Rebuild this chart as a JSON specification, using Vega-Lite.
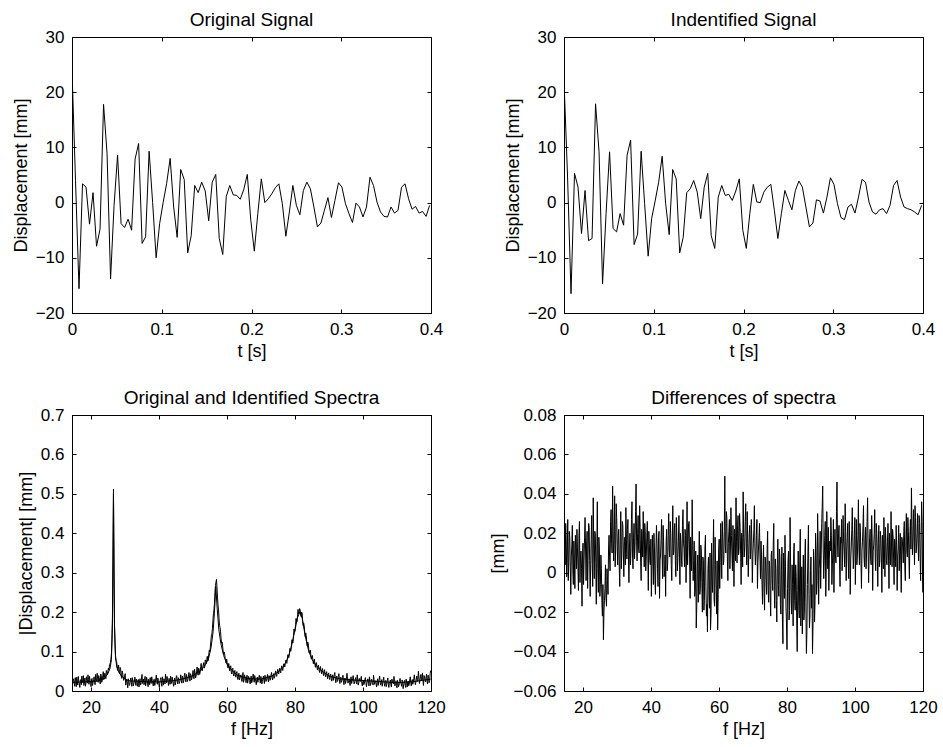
{
"$schema": "https://vega.github.io/schema/vega-lite/v6.json",
"background": "white",
"padding": {"left": 11, "top": 10, "right": 10, "bottom": 10},
"bounds": "flush",
"columns": 2,
"spacing": {"row": 102, "column": 133},
"config": {
  "font": "Liberation Sans",
  "view": {"stroke": "black", "strokeWidth": 1},
  "axis": {"grid": false, "domainColor": "black", "domainWidth": 1, "tickColor": "black", "tickSize": -4, "labelPadding": 12, "labelColor": "black", "titleColor": "black", "labelFontSize": 17, "titleFontSize": 18, "titleFontWeight": "normal", "titlePadding": 5, "labelFlush": false, "labelOverlap": false, "labelBound": false, "labelFont": "Liberation Sans", "titleFont": "Liberation Sans", "format": "~r"},
  "title": {"fontSize": 19, "fontWeight": "normal", "font": "Liberation Sans", "color": "black", "offset": -2, "anchor": "middle", "frame": "group"}
},
"datasets": {
"sig": [
{"t":0,"o":24,"id":22},{"t":0.00391,"o":4,"id":5},{"t":0.00781,"o":-15.6,"id":-16.5},{"t":0.01172,"o":3.4,"id":5.3},{"t":0.01563,"o":2.8,"id":2.8},{"t":0.01953,"o":-3.9,"id":-5.6},{"t":0.02344,"o":1.8,"id":2.2},{"t":0.02734,"o":-7.9,"id":-6.9},{"t":0.03125,"o":-4.8,"id":-6.5},{"t":0.03516,"o":17.8,"id":17.9},
{"t":0.03906,"o":8.9,"id":9.2},{"t":0.04297,"o":-13.8,"id":-14.7},{"t":0.04688,"o":-0.5,"id":-2},{"t":0.05078,"o":8.6,"id":9.2},{"t":0.05469,"o":-3.8,"id":-4.7},{"t":0.05859,"o":-4.5,"id":-5.3},{"t":0.0625,"o":-3.0,"id":-2.0},{"t":0.06641,"o":-5.0,"id":-4.1},{"t":0.07031,"o":7.9,"id":8.6},{"t":0.07422,"o":10.7,"id":11.3},
{"t":0.07813,"o":-7.4,"id":-7.6},{"t":0.08203,"o":-6.2,"id":-5.7},{"t":0.08594,"o":9.3,"id":9.3},{"t":0.08984,"o":0,"id":-0.2},{"t":0.09375,"o":-10.0,"id":-9.7},{"t":0.09766,"o":-3.8,"id":-2.9},{"t":0.10156,"o":0,"id":0.3},{"t":0.10547,"o":3.5,"id":3.7},{"t":0.10938,"o":8.0,"id":8.4},{"t":0.11328,"o":-0.8,"id":-0.2},
{"t":0.11719,"o":-6.3,"id":-5.8},{"t":0.12109,"o":6.0,"id":6.0},{"t":0.125,"o":4.2,"id":4.3},{"t":0.12891,"o":-9.1,"id":-9.1},{"t":0.13281,"o":-6.0,"id":-6.3},{"t":0.13672,"o":3.1,"id":1.8},{"t":0.14063,"o":1.8,"id":2.5},{"t":0.14453,"o":3.7,"id":4.0},{"t":0.14844,"o":2.1,"id":1.9},{"t":0.15234,"o":-3.3,"id":-2.9},
{"t":0.15625,"o":3.7,"id":2.8},{"t":0.16016,"o":5.1,"id":5.3},{"t":0.16406,"o":-6.5,"id":-6.0},{"t":0.16797,"o":-9.4,"id":-8.3},{"t":0.17188,"o":1.1,"id":1.0},{"t":0.17578,"o":3.1,"id":3.1},{"t":0.17969,"o":1.4,"id":1.3},{"t":0.18359,"o":1.3,"id":1.5},{"t":0.1875,"o":0.6,"id":0.4},{"t":0.19141,"o":2.4,"id":2.1},
{"t":0.19531,"o":5.1,"id":4.3},{"t":0.19922,"o":-3.2,"id":-5},{"t":0.20313,"o":-8.8,"id":-8.3},{"t":0.20703,"o":-2,"id":-2.0},{"t":0.21094,"o":4.3,"id":3.3},{"t":0.21484,"o":0,"id":0.1},{"t":0.21875,"o":0.7,"id":0},{"t":0.22266,"o":1.6,"id":1.9},{"t":0.22656,"o":2.7,"id":2.8},{"t":0.23047,"o":3.4,"id":3.3},
{"t":0.23438,"o":-0.2,"id":-1.4},{"t":0.23828,"o":-6.1,"id":-6.5},{"t":0.24219,"o":-1.7,"id":-2.0},{"t":0.24609,"o":3.1,"id":2.2},{"t":0.25,"o":-0.5,"id":0.4},{"t":0.25391,"o":-2.2,"id":-1.3},{"t":0.25781,"o":2.2,"id":2.2},{"t":0.26172,"o":3.7,"id":3.9},{"t":0.26563,"o":2.5,"id":2.8},{"t":0.26953,"o":-0.8,"id":-0.8},
{"t":0.27344,"o":-4.4,"id":-4.4},{"t":0.27734,"o":-3.7,"id":-3.7},{"t":0.28125,"o":-1.4,"id":0.5},{"t":0.28516,"o":0.9,"id":0.3},{"t":0.28906,"o":-2.7,"id":-1.9},{"t":0.29297,"o":0.4,"id":1.0},{"t":0.29688,"o":3.6,"id":4.5},{"t":0.30078,"o":2.8,"id":3.3},{"t":0.30469,"o":-0.2,"id":-0.2},{"t":0.30859,"o":-2.0,"id":-2.7},
{"t":0.3125,"o":-3.6,"id":-3.1},{"t":0.31641,"o":-0.1,"id":-0.8},{"t":0.32031,"o":-0.8,"id":-0.3},{"t":0.32422,"o":-2.6,"id":-1.9},{"t":0.32813,"o":-0.8,"id":1.0},{"t":0.33203,"o":4.6,"id":4.2},{"t":0.33594,"o":3.1,"id":3.7},{"t":0.33984,"o":0.1,"id":0.1},{"t":0.34375,"o":-1.7,"id":-1.7},{"t":0.34766,"o":-2.5,"id":-2.1},
{"t":0.35156,"o":-2.6,"id":-1.3},{"t":0.35547,"o":-0.8,"id":-1.1},{"t":0.35938,"o":-1.9,"id":-2.0},{"t":0.36328,"o":-1.4,"id":-0.5},{"t":0.36719,"o":2.8,"id":3.1},{"t":0.37109,"o":3.4,"id":4.0},{"t":0.375,"o":0.7,"id":1.0},{"t":0.37891,"o":-1.2,"id":-0.8},{"t":0.38281,"o":-0.7,"id":-1.1},{"t":0.38672,"o":-1.9,"id":-1.3},
{"t":0.39063,"o":-1.6,"id":-1.7},{"t":0.39453,"o":-2.5,"id":-2.2},{"t":0.39844,"o":-0.5,"id":-0.5}
],
"spec": [
{"f":14.6,"o":0.018,"d":0.012},{"f":14.9,"o":0.031,"d":0.025},{"f":15.2,"o":0.012,"d":-0.002},{"f":15.5,"o":0.027,"d":0.027},{"f":15.8,"o":0.035,"d":0.005},{"f":16.1,"o":0.015,"d":0.018},{"f":16.4,"o":0.024,"d":-0.011},{"f":16.7,"o":0.009,"d":0.014},{"f":17.0,"o":0.029,"d":0.001},{"f":17.3,"o":0.038,"d":0.016},
{"f":17.6,"o":0.021,"d":-0.008},{"f":17.9,"o":0.014,"d":0.012},{"f":18.2,"o":0.033,"d":0.022},{"f":18.5,"o":0.019,"d":0.003},{"f":18.8,"o":0.026,"d":0.019},{"f":19.1,"o":0.041,"d":-0.005},{"f":19.4,"o":0.017,"d":0.011},{"f":19.7,"o":0.028,"d":-0.017},{"f":20.0,"o":0.011,"d":0.015},{"f":20.3,"o":0.032,"d":0.006},
{"f":20.6,"o":0.023,"d":0.028},{"f":20.9,"o":0.036,"d":-0.004},{"f":21.2,"o":0.016,"d":0.021},{"f":21.5,"o":0.03,"d":0.009},{"f":21.8,"o":0.045,"d":0.023},{"f":22.1,"o":0.022,"d":-0.012},{"f":22.4,"o":0.034,"d":0.017},{"f":22.7,"o":0.018,"d":0.004},{"f":23.0,"o":0.04,"d":0.038},{"f":23.3,"o":0.027,"d":-0.003},
{"f":23.6,"o":0.049,"d":0.02},{"f":23.9,"o":0.033,"d":-0.016},{"f":24.2,"o":0.038,"d":0.036},{"f":24.5,"o":0.052,"d":-0.01},{"f":24.8,"o":0.041,"d":0.013},{"f":25.1,"o":0.058,"d":-0.006},{"f":25.4,"o":0.063,"d":0.002},{"f":25.7,"o":0.072,"d":-0.022},{"f":26.0,"o":0.095,"d":-0.034},{"f":26.3,"o":0.19,"d":-0.014},
{"f":26.6,"o":0.512,"d":0.004},{"f":26.9,"o":0.17,"d":-0.017},{"f":27.2,"o":0.09,"d":-0.004},{"f":27.5,"o":0.075,"d":0.012},{"f":27.8,"o":0.052,"d":0.008},{"f":28.1,"o":0.066,"d":0.026},{"f":28.4,"o":0.043,"d":0.015},{"f":28.7,"o":0.055,"d":0.044},{"f":29.0,"o":0.032,"d":0.006},{"f":29.3,"o":0.046,"d":0.039},
{"f":29.6,"o":0.027,"d":0.012},{"f":29.9,"o":0.038,"d":0.028},{"f":30.2,"o":0.015,"d":0.004},{"f":30.5,"o":0.029,"d":0.022},{"f":30.8,"o":0.008,"d":-0.007},{"f":31.1,"o":0.024,"d":0.031},{"f":31.4,"o":0.017,"d":0.009},{"f":31.7,"o":0.033,"d":0.024},{"f":32.0,"o":0.012,"d":-0.002},{"f":32.3,"o":0.026,"d":0.018},
{"f":32.6,"o":0.019,"d":0.033},{"f":32.9,"o":0.035,"d":0.007},{"f":33.2,"o":0.014,"d":0.027},{"f":33.5,"o":0.028,"d":-0.005},{"f":33.8,"o":0.021,"d":0.02},{"f":34.1,"o":0.01,"d":0.011},{"f":34.4,"o":0.031,"d":0.036},{"f":34.7,"o":0.018,"d":0.002},{"f":35.0,"o":0.042,"d":0.025},{"f":35.3,"o":0.023,"d":0.014},
{"f":35.6,"o":0.016,"d":0.045},{"f":35.9,"o":0.037,"d":0.006},{"f":36.2,"o":0.02,"d":0.029},{"f":36.5,"o":0.028,"d":0.01},{"f":36.8,"o":0.011,"d":0.023},{"f":37.1,"o":0.025,"d":-0.004},{"f":37.4,"o":0.034,"d":0.017},{"f":37.7,"o":0.019,"d":0.031},{"f":38.0,"o":0.027,"d":0.003},{"f":38.3,"o":0.013,"d":0.021},
{"f":38.6,"o":0.03,"d":0.008},{"f":38.9,"o":0.022,"d":0.026},{"f":39.2,"o":0.04,"d":-0.009},{"f":39.5,"o":0.017,"d":0.015},{"f":39.8,"o":0.026,"d":0.004},{"f":40.1,"o":0.009,"d":-0.012},{"f":40.4,"o":0.029,"d":0.019},{"f":40.7,"o":0.02,"d":-0.006},{"f":41.0,"o":0.036,"d":0.013},{"f":41.3,"o":0.015,"d":-0.011},
{"f":41.6,"o":0.027,"d":0.024},{"f":41.9,"o":0.043,"d":0.002},{"f":42.2,"o":0.021,"d":0.018},{"f":42.5,"o":0.031,"d":-0.013},{"f":42.8,"o":0.014,"d":0.009},{"f":43.1,"o":0.024,"d":0.027},{"f":43.4,"o":0.038,"d":-0.003},{"f":43.7,"o":0.019,"d":0.016},{"f":44.0,"o":0.028,"d":0.001},{"f":44.3,"o":0.012,"d":-0.012},
{"f":44.6,"o":0.033,"d":0.022},{"f":44.9,"o":0.022,"d":0.005},{"f":45.2,"o":0.039,"d":0.03},{"f":45.5,"o":0.018,"d":0.008},{"f":45.8,"o":0.03,"d":0.02},{"f":46.1,"o":0.024,"d":-0.004},{"f":46.4,"o":0.041,"d":0.034},{"f":46.7,"o":0.02,"d":0.011},{"f":47.0,"o":0.034,"d":0.025},{"f":47.3,"o":0.027,"d":-0.002},
{"f":47.6,"o":0.045,"d":0.018},{"f":47.9,"o":0.023,"d":0.007},{"f":48.2,"o":0.036,"d":0.029},{"f":48.5,"o":0.029,"d":-0.006},{"f":48.8,"o":0.047,"d":0.015},{"f":49.1,"o":0.025,"d":0.003},{"f":49.4,"o":0.04,"d":0.032},{"f":49.7,"o":0.033,"d":0.012},{"f":50.0,"o":0.052,"d":0.022},{"f":50.3,"o":0.031,"d":-0.005},
{"f":50.6,"o":0.046,"d":0.036},{"f":50.9,"o":0.038,"d":0.014},{"f":51.2,"o":0.061,"d":0.026},{"f":51.5,"o":0.04,"d":-0.013},{"f":51.8,"o":0.055,"d":0.01},{"f":52.1,"o":0.048,"d":0.037},{"f":52.4,"o":0.07,"d":-0.004},{"f":52.7,"o":0.051,"d":0.016},{"f":53.0,"o":0.066,"d":-0.009},{"f":53.3,"o":0.058,"d":-0.028},
{"f":53.6,"o":0.079,"d":0.003},{"f":53.9,"o":0.069,"d":-0.015},{"f":54.2,"o":0.088,"d":0.021},{"f":54.5,"o":0.082,"d":-0.008},{"f":54.8,"o":0.104,"d":0.011},{"f":55.1,"o":0.112,"d":-0.02},{"f":55.4,"o":0.14,"d":0.006},{"f":55.7,"o":0.158,"d":-0.014},{"f":56.0,"o":0.196,"d":0.019},{"f":56.3,"o":0.221,"d":-0.022},
{"f":56.6,"o":0.268,"d":-0.03},{"f":56.9,"o":0.283,"d":0.008},{"f":57.2,"o":0.238,"d":-0.018},{"f":57.5,"o":0.206,"d":-0.029},{"f":57.8,"o":0.166,"d":0.015},{"f":58.1,"o":0.15,"d":-0.01},{"f":58.4,"o":0.121,"d":0.027},{"f":58.7,"o":0.114,"d":-0.017},{"f":59.0,"o":0.093,"d":0.004},{"f":59.3,"o":0.094,"d":-0.021},
{"f":59.6,"o":0.075,"d":-0.029},{"f":59.9,"o":0.081,"d":0.012},{"f":60.2,"o":0.06,"d":-0.008},{"f":60.5,"o":0.07,"d":0.025},{"f":60.8,"o":0.051,"d":-0.003},{"f":61.1,"o":0.064,"d":0.018},{"f":61.4,"o":0.043,"d":0.006},{"f":61.7,"o":0.058,"d":0.049},{"f":62.0,"o":0.038,"d":0.01},{"f":62.3,"o":0.052,"d":0.028},
{"f":62.6,"o":0.035,"d":-0.004},{"f":62.9,"o":0.049,"d":0.021},{"f":63.2,"o":0.029,"d":0.002},{"f":63.5,"o":0.045,"d":0.033},{"f":63.8,"o":0.033,"d":0.009},{"f":64.1,"o":0.041,"d":0.024},{"f":64.4,"o":0.024,"d":-0.007},{"f":64.7,"o":0.047,"d":0.017},{"f":65.0,"o":0.028,"d":0.038},{"f":65.3,"o":0.036,"d":0.005},
{"f":65.6,"o":0.021,"d":0.029},{"f":65.9,"o":0.04,"d":0.012},{"f":66.2,"o":0.026,"d":0.023},{"f":66.5,"o":0.033,"d":-0.006},{"f":66.8,"o":0.018,"d":0.016},{"f":67.1,"o":0.038,"d":0.041},{"f":67.4,"o":0.025,"d":0.008},{"f":67.7,"o":0.043,"d":0.026},{"f":68.0,"o":0.022,"d":0.013},{"f":68.3,"o":0.031,"d":0.031},
{"f":68.6,"o":0.016,"d":-0.002},{"f":68.9,"o":0.035,"d":0.02},{"f":69.2,"o":0.027,"d":0.007},{"f":69.5,"o":0.04,"d":0.027},{"f":69.8,"o":0.02,"d":-0.005},{"f":70.1,"o":0.032,"d":0.015},{"f":70.4,"o":0.024,"d":0.034},{"f":70.7,"o":0.038,"d":0.004},{"f":71.0,"o":0.019,"d":0.019},{"f":71.3,"o":0.034,"d":-0.008},
{"f":71.6,"o":0.026,"d":0.012},{"f":71.9,"o":0.042,"d":0.025},{"f":72.2,"o":0.023,"d":-0.003},{"f":72.5,"o":0.036,"d":0.009},{"f":72.8,"o":0.03,"d":-0.016},{"f":73.1,"o":0.047,"d":0.014},{"f":73.4,"o":0.028,"d":-0.019},{"f":73.7,"o":0.044,"d":0.006},{"f":74.0,"o":0.035,"d":-0.011},{"f":74.3,"o":0.051,"d":0.021},
{"f":74.6,"o":0.037,"d":-0.015},{"f":74.9,"o":0.055,"d":0.003},{"f":75.2,"o":0.043,"d":-0.022},{"f":75.5,"o":0.058,"d":0.011},{"f":75.8,"o":0.046,"d":-0.009},{"f":76.1,"o":0.064,"d":0.025},{"f":76.4,"o":0.052,"d":-0.018},{"f":76.7,"o":0.069,"d":0.002},{"f":77.0,"o":0.061,"d":-0.025},{"f":77.3,"o":0.078,"d":0.017},
{"f":77.6,"o":0.07,"d":-0.012},{"f":77.9,"o":0.092,"d":0.008},{"f":78.2,"o":0.085,"d":-0.021},{"f":78.5,"o":0.108,"d":0.013},{"f":78.8,"o":0.101,"d":-0.036},{"f":79.1,"o":0.13,"d":-0.004},{"f":79.4,"o":0.122,"d":0.019},{"f":79.7,"o":0.157,"d":-0.017},{"f":80.0,"o":0.151,"d":-0.039},{"f":80.3,"o":0.184,"d":0.006},
{"f":80.6,"o":0.176,"d":-0.024},{"f":80.9,"o":0.207,"d":0.028},{"f":81.2,"o":0.198,"d":-0.013},{"f":81.5,"o":0.206,"d":0.004},{"f":81.8,"o":0.189,"d":-0.027},{"f":82.1,"o":0.197,"d":0.015},{"f":82.4,"o":0.166,"d":-0.019},{"f":82.7,"o":0.165,"d":-0.002},{"f":83.0,"o":0.138,"d":-0.04},{"f":83.3,"o":0.141,"d":0.011},
{"f":83.6,"o":0.114,"d":-0.023},{"f":83.9,"o":0.12,"d":0.022},{"f":84.2,"o":0.096,"d":-0.015},{"f":84.5,"o":0.104,"d":-0.031},{"f":84.8,"o":0.081,"d":0.009},{"f":85.1,"o":0.09,"d":-0.02},{"f":85.4,"o":0.069,"d":0.017},{"f":85.7,"o":0.081,"d":-0.041},{"f":86.0,"o":0.06,"d":-0.006},{"f":86.3,"o":0.072,"d":0.024},
{"f":86.6,"o":0.053,"d":-0.028},{"f":86.9,"o":0.066,"d":0.001},{"f":87.2,"o":0.047,"d":-0.018},{"f":87.5,"o":0.062,"d":-0.041},{"f":87.8,"o":0.044,"d":0.012},{"f":88.1,"o":0.057,"d":-0.025},{"f":88.4,"o":0.039,"d":0.02},{"f":88.7,"o":0.054,"d":-0.011},{"f":89.0,"o":0.036,"d":0.03},{"f":89.3,"o":0.049,"d":-0.016},
{"f":89.6,"o":0.031,"d":0.007},{"f":89.9,"o":0.046,"d":-0.008},{"f":90.2,"o":0.029,"d":0.025},{"f":90.5,"o":0.043,"d":0.044},{"f":90.8,"o":0.025,"d":-0.003},{"f":91.1,"o":0.041,"d":0.019},{"f":91.4,"o":0.033,"d":-0.012},{"f":91.7,"o":0.047,"d":0.031},{"f":92.0,"o":0.021,"d":0.002},{"f":92.3,"o":0.038,"d":-0.009},
{"f":92.6,"o":0.027,"d":0.016},{"f":92.9,"o":0.044,"d":0.028},{"f":93.2,"o":0.019,"d":-0.006},{"f":93.5,"o":0.035,"d":0.013},{"f":93.8,"o":0.026,"d":-0.01},{"f":94.1,"o":0.04,"d":0.022},{"f":94.4,"o":0.016,"d":0.005},{"f":94.7,"o":0.033,"d":0.046},{"f":95.0,"o":0.024,"d":0.008},{"f":95.3,"o":0.045,"d":0.024},
{"f":95.6,"o":0.02,"d":-0.007},{"f":95.9,"o":0.031,"d":0.015},{"f":96.2,"o":0.014,"d":0.001},{"f":96.5,"o":0.036,"d":0.029},{"f":96.8,"o":0.025,"d":0.011},{"f":97.1,"o":0.039,"d":0.035},{"f":97.4,"o":0.018,"d":-0.004},{"f":97.7,"o":0.029,"d":0.018},{"f":98.0,"o":0.022,"d":0.006},{"f":98.3,"o":0.041,"d":0.026},
{"f":98.6,"o":0.015,"d":-0.011},{"f":98.9,"o":0.032,"d":0.013},{"f":99.2,"o":0.024,"d":0.033},{"f":99.5,"o":0.037,"d":0.002},{"f":99.8,"o":0.013,"d":0.019},{"f":100.1,"o":0.028,"d":-0.006},{"f":100.4,"o":0.02,"d":0.027},{"f":100.7,"o":0.034,"d":0.009},{"f":101.0,"o":0.011,"d":0.037},{"f":101.3,"o":0.027,"d":0.004},
{"f":101.6,"o":0.019,"d":0.021},{"f":101.9,"o":0.036,"d":-0.008},{"f":102.2,"o":0.014,"d":0.016},{"f":102.5,"o":0.03,"d":0.034},{"f":102.8,"o":0.022,"d":0.003},{"f":103.1,"o":0.04,"d":0.023},{"f":103.4,"o":0.017,"d":0.01},{"f":103.7,"o":0.026,"d":0.038},{"f":104.0,"o":0.01,"d":-0.005},{"f":104.3,"o":0.031,"d":0.018},
{"f":104.6,"o":0.023,"d":0.007},{"f":104.9,"o":0.038,"d":0.029},{"f":105.2,"o":0.015,"d":-0.009},{"f":105.5,"o":0.029,"d":0.014},{"f":105.8,"o":0.02,"d":0.032},{"f":106.1,"o":0.035,"d":0.001},{"f":106.4,"o":0.012,"d":0.02},{"f":106.7,"o":0.027,"d":-0.007},{"f":107.0,"o":0.018,"d":0.024},{"f":107.3,"o":0.033,"d":0.006},
{"f":107.6,"o":0.009,"d":0.017},{"f":107.9,"o":0.024,"d":-0.01},{"f":108.2,"o":0.016,"d":0.013},{"f":108.5,"o":0.03,"d":0.028},{"f":108.8,"o":0.021,"d":-0.002},{"f":109.1,"o":0.037,"d":0.016},{"f":109.4,"o":0.013,"d":0.004},{"f":109.7,"o":0.026,"d":0.025},{"f":110.0,"o":0.008,"d":-0.008},{"f":110.3,"o":0.022,"d":0.011},
{"f":110.6,"o":0.015,"d":0.031},{"f":110.9,"o":0.032,"d":0.003},{"f":111.2,"o":0.019,"d":0.019},{"f":111.5,"o":0.028,"d":-0.006},{"f":111.8,"o":0.006,"d":0.014},{"f":112.1,"o":0.021,"d":0.024},{"f":112.4,"o":0.014,"d":-0.009},{"f":112.7,"o":0.03,"d":0.012},{"f":113.0,"o":0.01,"d":0.001},{"f":113.3,"o":0.025,"d":0.02},
{"f":113.6,"o":0.017,"d":-0.01},{"f":113.9,"o":0.036,"d":0.017},{"f":114.2,"o":0.013,"d":0.005},{"f":114.5,"o":0.029,"d":0.026},{"f":114.8,"o":0.022,"d":-0.004},{"f":115.1,"o":0.041,"d":0.03},{"f":115.4,"o":0.016,"d":0.008},{"f":115.7,"o":0.033,"d":0.021},{"f":116.0,"o":0.024,"d":-0.003},{"f":116.3,"o":0.05,"d":0.027},
{"f":116.6,"o":0.019,"d":0.043},{"f":116.9,"o":0.038,"d":0.009},{"f":117.2,"o":0.027,"d":0.032},{"f":117.5,"o":0.046,"d":0.004},{"f":117.8,"o":0.014,"d":0.028},{"f":118.1,"o":0.035,"d":0.013},{"f":118.4,"o":0.023,"d":0.03},{"f":118.7,"o":0.043,"d":0.006},{"f":119.0,"o":0.018,"d":0.025},{"f":119.3,"o":0.031,"d":-0.004},
{"f":119.6,"o":0.026,"d":0.036},{"f":119.9,"o":0.052,"d":-0.01},
{"f":14.75,"o":0.026,"d":0.004},{"f":15.05,"o":0.02,"d":0.017},{"f":15.35,"o":0.034,"d":0.009},{"f":15.65,"o":0.011,"d":-0.004},{"f":15.95,"o":0.022,"d":0.021},{"f":16.25,"o":0.037,"d":0.003},{"f":16.55,"o":0.019,"d":0.008},{"f":16.85,"o":0.028,"d":0.024},{"f":17.15,"o":0.016,"d":-0.006},{"f":17.45,"o":0.025,"d":0.007},
{"f":17.75,"o":0.039,"d":0.019},{"f":18.05,"o":0.024,"d":0.002},{"f":18.35,"o":0.012,"d":0.013},{"f":18.65,"o":0.036,"d":-0.009},{"f":18.95,"o":0.02,"d":0.026},{"f":19.25,"o":0.029,"d":0.008},{"f":19.55,"o":0.037,"d":0.002},{"f":19.85,"o":0.019,"d":0.009},{"f":20.15,"o":0.03,"d":-0.006},{"f":20.45,"o":0.014,"d":0.018},
{"f":20.75,"o":0.029,"d":0.011},{"f":21.05,"o":0.021,"d":0.014},{"f":21.35,"o":0.042,"d":-0.008},{"f":21.65,"o":0.025,"d":0.025},{"f":21.95,"o":0.031,"d":0.006},{"f":22.25,"o":0.039,"d":0.004},{"f":22.55,"o":0.026,"d":0.029},{"f":22.85,"o":0.043,"d":-0.007},{"f":23.15,"o":0.022,"d":0.012},{"f":23.45,"o":0.038,"d":0.021},
{"f":23.75,"o":0.029,"d":0.005},{"f":24.05,"o":0.045,"d":0.011},{"f":24.35,"o":0.031,"d":0.002},{"f":24.65,"o":0.047,"d":0.018},{"f":24.95,"o":0.05,"d":-0.012},{"f":25.25,"o":0.054,"d":0.009},{"f":25.55,"o":0.068,"d":-0.015},{"f":25.85,"o":0.081,"d":-0.006},{"f":26.15,"o":0.13,"d":-0.02},{"f":26.45,"o":0.32,"d":-0.008},
{"f":26.75,"o":0.3,"d":-0.013},{"f":27.05,"o":0.12,"d":0.002},{"f":27.35,"o":0.078,"d":-0.011},{"f":27.65,"o":0.066,"d":0.019},{"f":27.95,"o":0.058,"d":0.001},{"f":28.25,"o":0.049,"d":0.032},{"f":28.55,"o":0.06,"d":0.01},{"f":28.85,"o":0.04,"d":0.021},{"f":29.15,"o":0.051,"d":0.017},{"f":29.45,"o":0.035,"d":0.003},
{"f":29.75,"o":0.031,"d":0.035},{"f":30.05,"o":0.044,"d":0.014},{"f":30.35,"o":0.022,"d":0.019},{"f":30.65,"o":0.02,"d":0.003},{"f":30.95,"o":0.031,"d":0.016},{"f":31.25,"o":0.014,"d":0.002},{"f":31.55,"o":0.027,"d":0.026},{"f":31.85,"o":0.022,"d":0.011},{"f":32.15,"o":0.034,"d":0.014},{"f":32.45,"o":0.013,"d":0.004},
{"f":32.75,"o":0.025,"d":0.017},{"f":33.05,"o":0.024,"d":0.022},{"f":33.35,"o":0.03,"d":0.008},{"f":33.65,"o":0.012,"d":0.013},{"f":33.95,"o":0.029,"d":0.004},{"f":34.25,"o":0.023,"d":0.027},{"f":34.55,"o":0.015,"d":0.009},{"f":34.85,"o":0.033,"d":0.018},{"f":35.15,"o":0.019,"d":0.007},{"f":35.45,"o":0.03,"d":0.031},
{"f":35.75,"o":0.027,"d":0.016},{"f":36.05,"o":0.013,"d":0.02},{"f":36.35,"o":0.035,"d":0.012},{"f":36.65,"o":0.018,"d":0.034},{"f":36.95,"o":0.03,"d":0.005},{"f":37.25,"o":0.016,"d":0.022},{"f":37.55,"o":0.024,"d":0.008},{"f":37.85,"o":0.036,"d":0.014},{"f":38.15,"o":0.02,"d":0.025},{"f":38.45,"o":0.029,"d":0.001},
{"f":38.75,"o":0.014,"d":0.018},{"f":39.05,"o":0.031,"d":0.01},{"f":39.35,"o":0.024,"d":0.021},{"f":39.65,"o":0.033,"d":0.006},{"f":39.95,"o":0.018,"d":0.017},{"f":40.25,"o":0.023,"d":0.003},{"f":40.55,"o":0.034,"d":0.008},{"f":40.85,"o":0.012,"d":0.02},{"f":41.15,"o":0.025,"d":-0.004},{"f":41.45,"o":0.031,"d":0.011},
{"f":41.75,"o":0.018,"d":0.015},{"f":42.05,"o":0.029,"d":-0.007},{"f":42.35,"o":0.037,"d":0.021},{"f":42.65,"o":0.022,"d":0.006},{"f":42.95,"o":0.032,"d":0.017},{"f":43.25,"o":0.017,"d":0.011},{"f":43.55,"o":0.027,"d":0.024},{"f":43.85,"o":0.035,"d":-0.002},{"f":44.15,"o":0.02,"d":0.009},{"f":44.45,"o":0.026,"d":0.016},
{"f":44.75,"o":0.015,"d":0.001},{"f":45.05,"o":0.036,"d":0.019},{"f":45.35,"o":0.025,"d":0.012},{"f":45.65,"o":0.034,"d":0.026},{"f":45.95,"o":0.019,"d":0.004},{"f":46.25,"o":0.031,"d":0.015},{"f":46.55,"o":0.026,"d":0.009},{"f":46.85,"o":0.038,"d":0.022},{"f":47.15,"o":0.021,"d":0.006},{"f":47.45,"o":0.04,"d":0.028},
{"f":47.75,"o":0.03,"d":0.001},{"f":48.05,"o":0.042,"d":0.016},{"f":48.35,"o":0.024,"d":0.011},{"f":48.65,"o":0.038,"d":0.02},{"f":48.95,"o":0.032,"d":0.007},{"f":49.25,"o":0.044,"d":0.024},{"f":49.55,"o":0.028,"d":0.015},{"f":49.85,"o":0.041,"d":0.003},{"f":50.15,"o":0.036,"d":0.019},{"f":50.45,"o":0.055,"d":0.01},
{"f":50.75,"o":0.033,"d":0.004},{"f":51.05,"o":0.05,"d":0.025},{"f":51.35,"o":0.045,"d":0.007},{"f":51.65,"o":0.058,"d":0.018},{"f":51.95,"o":0.042,"d":0.001},{"f":52.25,"o":0.062,"d":0.014},{"f":52.55,"o":0.056,"d":0.006},{"f":52.85,"o":0.059,"d":-0.012},{"f":53.15,"o":0.072,"d":0.011},{"f":53.45,"o":0.062,"d":-0.017},
{"f":53.75,"o":0.075,"d":0.009},{"f":54.05,"o":0.08,"d":0.002},{"f":54.35,"o":0.076,"d":-0.011},{"f":54.65,"o":0.095,"d":0.014},{"f":54.95,"o":0.099,"d":-0.005},{"f":55.25,"o":0.127,"d":0.008},{"f":55.55,"o":0.145,"d":-0.019},{"f":55.85,"o":0.178,"d":0.012},{"f":56.15,"o":0.205,"d":-0.007},{"f":56.45,"o":0.25,"d":-0.016},
{"f":56.75,"o":0.276,"d":0.002},{"f":57.05,"o":0.262,"d":-0.012},{"f":57.35,"o":0.218,"d":0.01},{"f":57.65,"o":0.184,"d":-0.021},{"f":57.95,"o":0.161,"d":-0.003},{"f":58.25,"o":0.133,"d":0.009},{"f":58.55,"o":0.124,"d":-0.014},{"f":58.85,"o":0.102,"d":0.018},{"f":59.15,"o":0.099,"d":-0.009},{"f":59.45,"o":0.083,"d":0.006},
{"f":59.75,"o":0.071,"d":-0.011},{"f":60.05,"o":0.072,"d":0.017},{"f":60.35,"o":0.058,"d":0.005},{"f":60.65,"o":0.061,"d":0.012},{"f":60.95,"o":0.059,"d":0.026},{"f":61.25,"o":0.048,"d":0.004},{"f":61.55,"o":0.055,"d":0.021},{"f":61.85,"o":0.044,"d":0.014},{"f":62.15,"o":0.046,"d":0.031},{"f":62.45,"o":0.041,"d":0.008},
{"f":62.75,"o":0.044,"d":0.015},{"f":63.05,"o":0.036,"d":0.027},{"f":63.35,"o":0.039,"d":0.012},{"f":63.65,"o":0.028,"d":0.019},{"f":63.95,"o":0.038,"d":0.001},{"f":64.25,"o":0.031,"d":0.013},{"f":64.55,"o":0.036,"d":0.022},{"f":64.85,"o":0.022,"d":0.006},{"f":65.15,"o":0.041,"d":0.016},{"f":65.45,"o":0.027,"d":0.024},
{"f":65.75,"o":0.033,"d":0.009},{"f":66.05,"o":0.02,"d":0.03},{"f":66.35,"o":0.037,"d":0.011},{"f":66.65,"o":0.027,"d":0.02},{"f":66.95,"o":0.03,"d":0.003},{"f":67.25,"o":0.021,"d":0.018},{"f":67.55,"o":0.034,"d":0.013},{"f":67.85,"o":0.029,"d":0.035},{"f":68.15,"o":0.039,"d":0.004},{"f":68.45,"o":0.025,"d":0.015},
{"f":68.75,"o":0.029,"d":0.009},{"f":69.05,"o":0.022,"d":0.024},{"f":69.35,"o":0.033,"d":0.012},{"f":69.65,"o":0.03,"d":0.016},{"f":69.95,"o":0.037,"d":0.008},{"f":70.25,"o":0.018,"d":0.022},{"f":70.55,"o":0.031,"d":0.013},{"f":70.85,"o":0.027,"d":0.01},{"f":71.15,"o":0.04,"d":0.027},{"f":71.45,"o":0.024,"d":0.005},
{"f":71.75,"o":0.033,"d":0.018},{"f":72.05,"o":0.029,"d":0.008},{"f":72.35,"o":0.039,"d":0.016},{"f":72.65,"o":0.027,"d":-0.006},{"f":72.95,"o":0.041,"d":0.004},{"f":73.25,"o":0.034,"d":-0.01},{"f":73.55,"o":0.039,"d":0.008},{"f":73.85,"o":0.032,"d":-0.004},{"f":74.15,"o":0.045,"d":0.012},{"f":74.45,"o":0.041,"d":-0.008},
{"f":74.75,"o":0.046,"d":0.006},{"f":75.05,"o":0.049,"d":-0.012},{"f":75.35,"o":0.052,"d":0.009},{"f":75.65,"o":0.05,"d":-0.003},{"f":75.95,"o":0.058,"d":0.014},{"f":76.25,"o":0.057,"d":-0.009},{"f":76.55,"o":0.063,"d":0.007},{"f":76.85,"o":0.065,"d":-0.014},{"f":77.15,"o":0.07,"d":0.004},{"f":77.45,"o":0.073,"d":-0.006},
{"f":77.75,"o":0.082,"d":0.012},{"f":78.05,"o":0.088,"d":-0.016},{"f":78.35,"o":0.095,"d":0.001},{"f":78.65,"o":0.102,"d":-0.024},{"f":78.95,"o":0.118,"d":0.01},{"f":79.25,"o":0.125,"d":-0.013},{"f":79.55,"o":0.14,"d":0.003},{"f":79.85,"o":0.152,"d":-0.026},{"f":80.15,"o":0.168,"d":-0.008},{"f":80.45,"o":0.178,"d":0.011},
{"f":80.75,"o":0.193,"d":-0.019},{"f":81.05,"o":0.195,"d":0.005},{"f":81.35,"o":0.209,"d":-0.021},{"f":81.65,"o":0.195,"d":-0.006},{"f":81.95,"o":0.2,"d":0.009},{"f":82.25,"o":0.178,"d":-0.014},{"f":82.55,"o":0.172,"d":0.004},{"f":82.85,"o":0.15,"d":-0.025},{"f":83.15,"o":0.147,"d":-0.009},{"f":83.45,"o":0.125,"d":-0.017},
{"f":83.75,"o":0.124,"d":0.006},{"f":84.05,"o":0.105,"d":-0.027},{"f":84.35,"o":0.1,"d":0.003},{"f":84.65,"o":0.092,"d":-0.012},{"f":84.95,"o":0.087,"d":-0.024},{"f":85.25,"o":0.079,"d":0.007},{"f":85.55,"o":0.075,"d":-0.015},{"f":85.85,"o":0.068,"d":-0.03},{"f":86.15,"o":0.068,"d":0.01},{"f":86.45,"o":0.061,"d":-0.011},
{"f":86.75,"o":0.06,"d":-0.022},{"f":87.05,"o":0.055,"d":0.008},{"f":87.35,"o":0.057,"d":-0.006},{"f":87.65,"o":0.05,"d":-0.026},{"f":87.95,"o":0.053,"d":0.005},{"f":88.25,"o":0.045,"d":-0.014},{"f":88.55,"o":0.05,"d":0.011},{"f":88.85,"o":0.041,"d":-0.004},{"f":89.15,"o":0.045,"d":0.016},{"f":89.45,"o":0.038,"d":0.002},
{"f":89.75,"o":0.042,"d":0.021},{"f":90.05,"o":0.035,"d":0.009},{"f":90.35,"o":0.039,"d":0.033},{"f":90.65,"o":0.032,"d":0.012},{"f":90.95,"o":0.036,"d":0.006},{"f":91.25,"o":0.027,"d":0.026},{"f":91.55,"o":0.04,"d":0.003},{"f":91.85,"o":0.03,"d":0.015},{"f":92.15,"o":0.034,"d":0.023},{"f":92.45,"o":0.024,"d":0.007},
{"f":92.75,"o":0.037,"d":0.011},{"f":93.05,"o":0.029,"d":0.019},{"f":93.35,"o":0.031,"d":0.004},{"f":93.65,"o":0.022,"d":0.027},{"f":93.95,"o":0.034,"d":0.012},{"f":94.25,"o":0.027,"d":0.009},{"f":94.55,"o":0.03,"d":0.031},{"f":94.85,"o":0.019,"d":0.014},{"f":95.15,"o":0.036,"d":0.02},{"f":95.45,"o":0.028,"d":0.005},
{"f":95.75,"o":0.026,"d":0.018},{"f":96.05,"o":0.022,"d":0.027},{"f":96.35,"o":0.029,"d":0.009},{"f":96.65,"o":0.019,"d":0.016},{"f":96.95,"o":0.032,"d":0.003},{"f":97.25,"o":0.025,"d":0.021},{"f":97.55,"o":0.023,"d":0.011},{"f":97.85,"o":0.034,"d":0.025},{"f":98.15,"o":0.018,"d":-0.003},{"f":98.45,"o":0.028,"d":0.014},
{"f":98.75,"o":0.021,"d":0.007},{"f":99.05,"o":0.027,"d":0.022},{"f":99.35,"o":0.03,"d":0.016},{"f":99.65,"o":0.019,"d":0.009},{"f":99.95,"o":0.024,"d":0.028},{"f":100.25,"o":0.016,"d":0.012},{"f":100.55,"o":0.029,"d":0.004},{"f":100.85,"o":0.022,"d":0.019},{"f":101.15,"o":0.02,"d":0.013},{"f":101.45,"o":0.031,"d":0.025},
{"f":101.75,"o":0.013,"d":0.006},{"f":102.05,"o":0.025,"d":0.011},{"f":102.35,"o":0.02,"d":0.024},{"f":102.65,"o":0.027,"d":0.008},{"f":102.95,"o":0.015,"d":0.017},{"f":103.25,"o":0.029,"d":0.002},{"f":103.55,"o":0.022,"d":0.026},{"f":103.85,"o":0.018,"d":0.013},{"f":104.15,"o":0.025,"d":0.009},{"f":104.45,"o":0.014,"d":0.022},
{"f":104.75,"o":0.03,"d":0.004},{"f":105.05,"o":0.021,"d":0.017},{"f":105.35,"o":0.023,"d":0.011},{"f":105.65,"o":0.012,"d":0.02},{"f":105.95,"o":0.028,"d":0.007},{"f":106.25,"o":0.019,"d":0.025},{"f":106.55,"o":0.022,"d":0.01},{"f":106.85,"o":0.011,"d":0.015},{"f":107.15,"o":0.026,"d":0.003},{"f":107.45,"o":0.017,"d":0.021},
{"f":107.75,"o":0.02,"d":0.008},{"f":108.05,"o":0.028,"d":0.019},{"f":108.35,"o":0.01,"d":0.002},{"f":108.65,"o":0.025,"d":0.012},{"f":108.95,"o":0.018,"d":0.023},{"f":109.25,"o":0.024,"d":0.006},{"f":109.55,"o":0.019,"d":0.016},{"f":109.85,"o":0.014,"d":0.009},{"f":110.15,"o":0.027,"d":0.02},{"f":110.45,"o":0.011,"d":0.004},
{"f":110.75,"o":0.024,"d":0.013},{"f":111.05,"o":0.02,"d":0.022},{"f":111.35,"o":0.012,"d":0.007},{"f":111.65,"o":0.025,"d":0.017},{"f":111.95,"o":0.016,"d":0.003},{"f":112.25,"o":0.027,"d":0.014},{"f":112.55,"o":0.009,"d":0.009},{"f":112.85,"o":0.02,"d":0.024},{"f":113.15,"o":0.023,"d":0.011},{"f":113.45,"o":0.013,"d":0.006},
{"f":113.75,"o":0.028,"d":0.018},{"f":114.05,"o":0.021,"d":0.012},{"f":114.35,"o":0.025,"d":0.021},{"f":114.65,"o":0.017,"d":0.003},{"f":114.95,"o":0.032,"d":0.016},{"f":115.25,"o":0.026,"d":0.011},{"f":115.55,"o":0.022,"d":0.028},{"f":115.85,"o":0.038,"d":0.007},{"f":116.15,"o":0.029,"d":0.019},{"f":116.45,"o":0.035,"d":0.012},
{"f":116.75,"o":0.026,"d":0.024},{"f":117.05,"o":0.042,"d":0.016},{"f":117.35,"o":0.03,"d":0.021},{"f":117.65,"o":0.025,"d":0.034},{"f":117.95,"o":0.039,"d":0.01},{"f":118.25,"o":0.028,"d":0.02},{"f":118.55,"o":0.036,"d":0.015},{"f":118.85,"o":0.024,"d":0.029},{"f":119.15,"o":0.04,"d":0.008},{"f":119.45,"o":0.021,"d":0.018},
{"f":119.75,"o":0.044,"d":0.026}
],
"ident": [
{"f":14.6,"v":0.022},{"f":18,"v":0.023},{"f":22,"v":0.025},{"f":24,"v":0.032},{"f":25,"v":0.045},{"f":25.6,"v":0.058},{"f":26.0,"v":0.08},{"f":26.3,"v":0.17},{"f":26.6,"v":0.5},{"f":26.9,"v":0.165},{"f":27.2,"v":0.085},{"f":27.6,"v":0.06},{"f":28.2,"v":0.048},{"f":29,"v":0.037},{"f":31,"v":0.026},{"f":35,"v":0.024},{"f":40,"v":0.023},{"f":45,"v":0.027},{"f":48,"v":0.033},{"f":50,"v":0.039},{"f":52,"v":0.05},{"f":53.5,"v":0.065},{"f":54.5,"v":0.08},{"f":55.3,"v":0.11},{"f":55.9,"v":0.15},{"f":56.3,"v":0.2},{"f":56.7,"v":0.265},{"f":57.1,"v":0.21},{"f":57.6,"v":0.155},{"f":58.2,"v":0.12},{"f":59,"v":0.09},{"f":60,"v":0.068},{"f":61.5,"v":0.052},{"f":63,"v":0.04},{"f":66,"v":0.032},{"f":70,"v":0.03},{"f":73,"v":0.037},{"f":75,"v":0.048},{"f":76.5,"v":0.06},{"f":78,"v":0.085},{"f":79,"v":0.115},{"f":80,"v":0.155},{"f":80.7,"v":0.185},{"f":81.4,"v":0.2},{"f":82.1,"v":0.185},{"f":83,"v":0.14},{"f":84,"v":0.102},{"f":85,"v":0.08},{"f":86.5,"v":0.062},{"f":88,"v":0.05},{"f":90,"v":0.038},{"f":93,"v":0.031},{"f":97,"v":0.028},{"f":103,"v":0.025},{"f":110,"v":0.021},{"f":115,"v":0.024},{"f":119.9,"v":0.03}
]
},
"concat": [
{
  "width": 359, "height": 276,
  "title": "Original Signal",
  "data": {"name": "sig"},
  "layer": [
    {"mark": {"type": "line", "color": "black", "strokeWidth": 1, "clip": true},
     "encoding": {
       "x": {"field": "t", "type": "quantitative", "scale": {"domain": [0, 0.4], "nice": false, "zero": false}, "axis": {"title": "t [s]", "values": [0, 0.1, 0.2, 0.3, 0.4]}},
       "y": {"field": "o", "type": "quantitative", "scale": {"domain": [-20, 30], "nice": false}, "axis": {"title": "Displacement [mm]", "values": [-20, -10, 0, 10, 20, 30]}}}},
    {"mark": {"type": "line", "opacity": 0},
     "encoding": {
       "x": {"field": "t", "type": "quantitative", "axis": {"orient": "top", "labels": false, "title": null, "values": [0, 0.1, 0.2, 0.3, 0.4]}},
       "y": {"field": "o", "type": "quantitative", "axis": {"orient": "right", "labels": false, "title": null, "values": [-20, -10, 0, 10, 20, 30]}}}}
  ],
  "resolve": {"axis": {"x": "independent", "y": "independent"}}
},
{
  "width": 359, "height": 276,
  "title": "Indentified Signal",
  "data": {"name": "sig"},
  "layer": [
    {"mark": {"type": "line", "color": "black", "strokeWidth": 1, "clip": true},
     "encoding": {
       "x": {"field": "t", "type": "quantitative", "scale": {"domain": [0, 0.4], "nice": false, "zero": false}, "axis": {"title": "t [s]", "values": [0, 0.1, 0.2, 0.3, 0.4]}},
       "y": {"field": "id", "type": "quantitative", "scale": {"domain": [-20, 30], "nice": false}, "axis": {"title": "Displacement [mm]", "values": [-20, -10, 0, 10, 20, 30]}}}},
    {"mark": {"type": "line", "opacity": 0},
     "encoding": {
       "x": {"field": "t", "type": "quantitative", "axis": {"orient": "top", "labels": false, "title": null, "values": [0, 0.1, 0.2, 0.3, 0.4]}},
       "y": {"field": "id", "type": "quantitative", "axis": {"orient": "right", "labels": false, "title": null, "values": [-20, -10, 0, 10, 20, 30]}}}}
  ],
  "resolve": {"axis": {"x": "independent", "y": "independent"}}
},
{
  "width": 359, "height": 276,
  "title": "Original and Identified Spectra",
  "layer": [
    {"data": {"name": "spec"},
     "mark": {"type": "line", "color": "black", "strokeWidth": 1, "clip": true},
     "encoding": {
       "x": {"field": "f", "type": "quantitative", "scale": {"domain": [14.4, 120], "nice": false, "zero": false}, "axis": {"title": "f [Hz]", "values": [20, 40, 60, 80, 100, 120]}},
       "y": {"field": "o", "type": "quantitative", "scale": {"domain": [0, 0.7], "nice": false}, "axis": {"title": "|Displacement| [mm]", "values": [0, 0.1, 0.2, 0.3, 0.4, 0.5, 0.6, 0.7]}}}},
    {"data": {"name": "ident"},
     "mark": {"type": "line", "color": "black", "strokeWidth": 1, "clip": true},
     "encoding": {
       "x": {"field": "f", "type": "quantitative", "axis": {"orient": "top", "labels": false, "title": null, "values": [20, 40, 60, 80, 100, 120]}},
       "y": {"field": "v", "type": "quantitative", "axis": {"orient": "right", "labels": false, "title": null, "values": [0, 0.1, 0.2, 0.3, 0.4, 0.5, 0.6, 0.7]}}}}
  ],
  "resolve": {"axis": {"x": "independent", "y": "independent"}}
},
{
  "width": 359, "height": 276,
  "title": "Differences of spectra",
  "data": {"name": "spec"},
  "layer": [
    {"mark": {"type": "line", "color": "black", "strokeWidth": 1, "clip": true},
     "encoding": {
       "x": {"field": "f", "type": "quantitative", "scale": {"domain": [14.4, 120], "nice": false, "zero": false}, "axis": {"title": "f [Hz]", "values": [20, 40, 60, 80, 100, 120]}},
       "y": {"field": "d", "type": "quantitative", "scale": {"domain": [-0.06, 0.08], "nice": false, "zero": false}, "axis": {"title": "[mm]", "values": [-0.06, -0.04, -0.02, 0, 0.02, 0.04, 0.06, 0.08]}}}},
    {"mark": {"type": "line", "opacity": 0},
     "encoding": {
       "x": {"field": "f", "type": "quantitative", "axis": {"orient": "top", "labels": false, "title": null, "values": [20, 40, 60, 80, 100, 120]}},
       "y": {"field": "d", "type": "quantitative", "axis": {"orient": "right", "labels": false, "title": null, "values": [-0.06, -0.04, -0.02, 0, 0.02, 0.04, 0.06, 0.08]}}}}
  ],
  "resolve": {"axis": {"x": "independent", "y": "independent"}}
}
]
}
